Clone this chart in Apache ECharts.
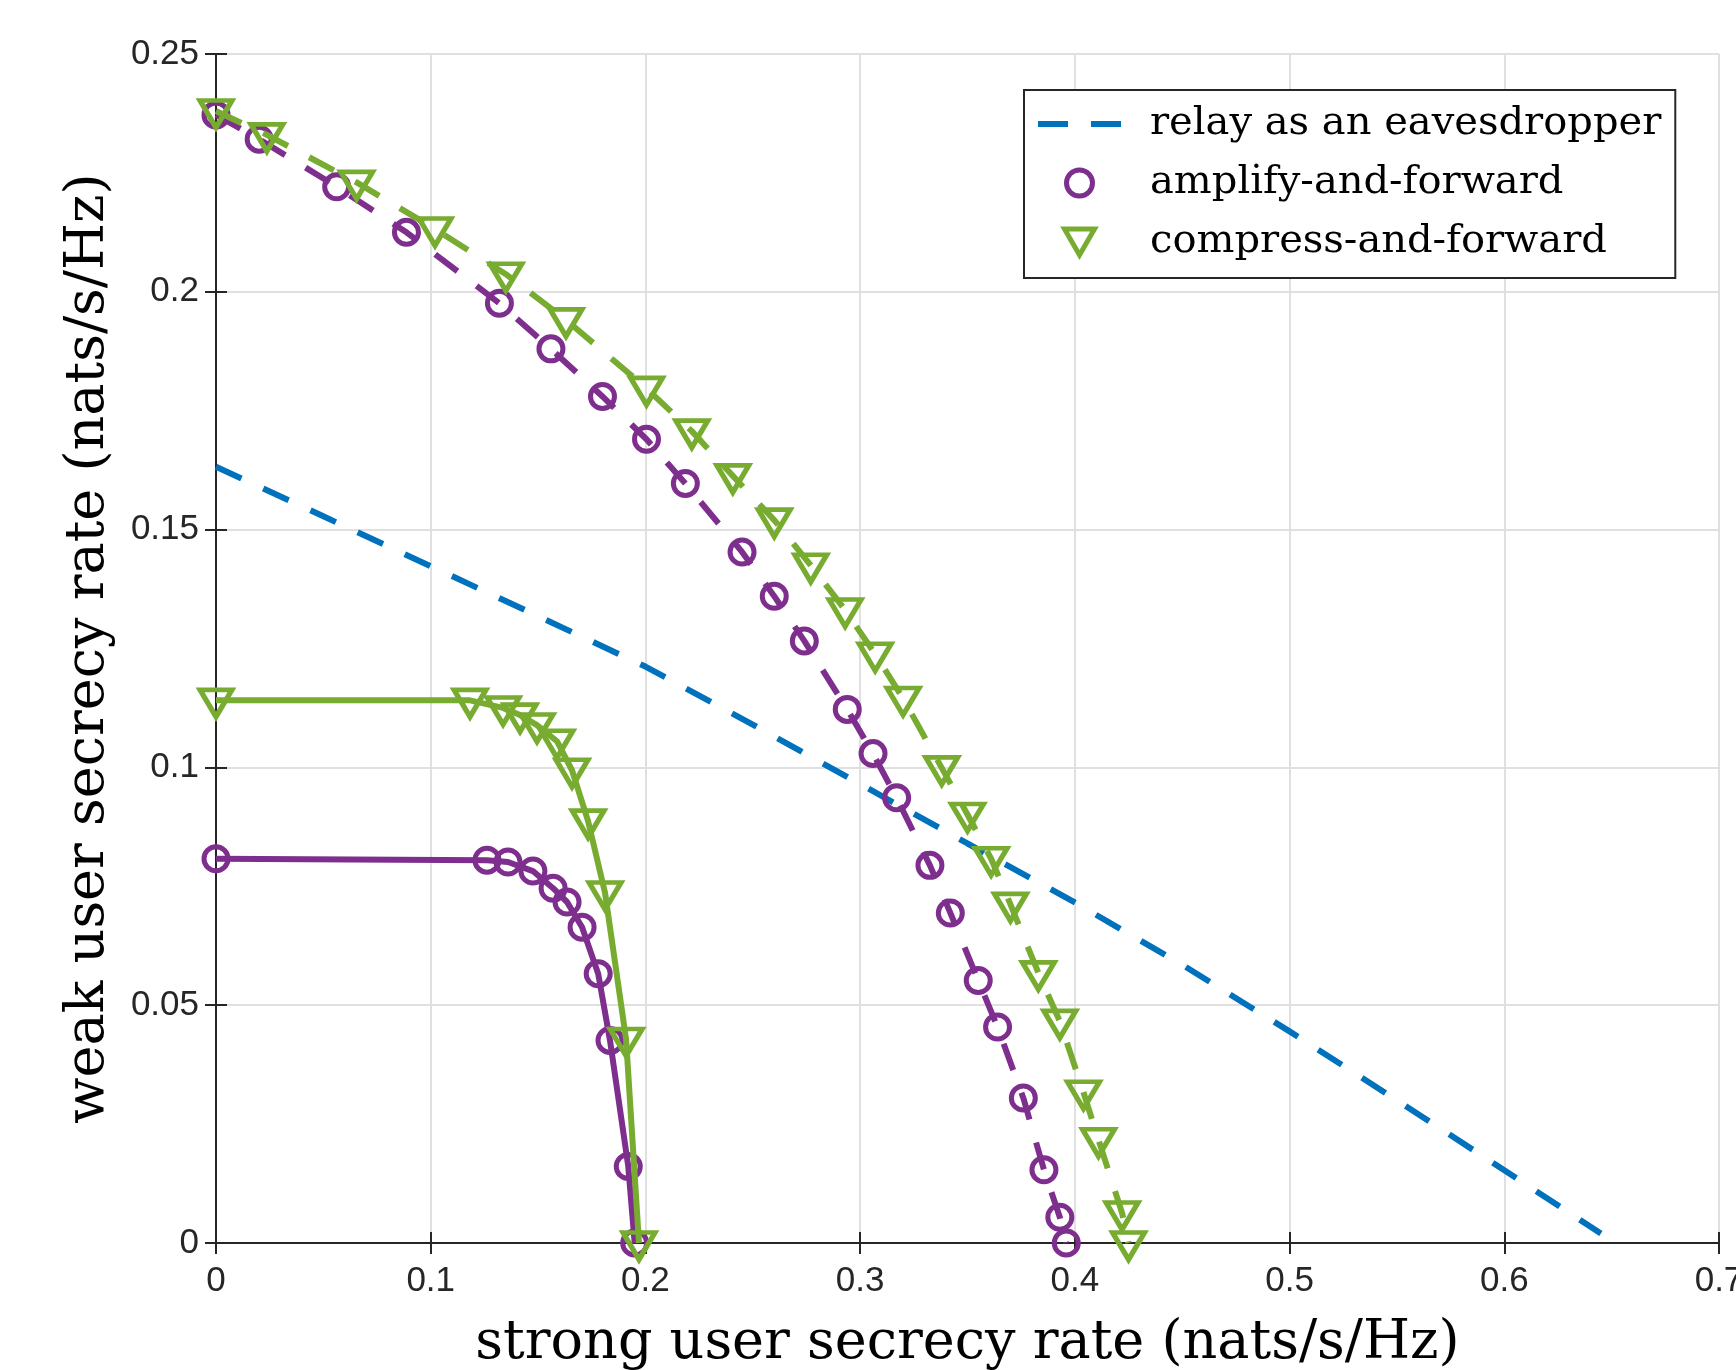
<!DOCTYPE html>
<html>
<head>
<meta charset="utf-8">
<title>secrecy rate region</title>
<script src="https://cdn.jsdelivr.net/npm/echarts@6/dist/echarts.min.js"></script>
<style>
  html, body { margin: 0; padding: 0; background: #fff; }
  #chart { width: 1736px; height: 1370px; }
</style>
</head>
<body>
<div id="chart"></div>
<script>
// relay as an eavesdropper (dashed blue, no markers)
const relayX = [0, 0.05, 0.10, 0.15, 0.20, 0.25, 0.30, 0.35, 0.40, 0.45, 0.50, 0.55, 0.60, 0.645];
const relayY = [0.1632, 0.1528, 0.1423, 0.1318, 0.1212, 0.1090, 0.0965, 0.0840, 0.0716, 0.0585, 0.0445, 0.0300, 0.0153, 0.0020];

// amplify-and-forward, upper (dashed) and lower (solid) curves
const afUpperX = [0, 0.0201, 0.0562, 0.0887, 0.132, 0.156, 0.180, 0.2005, 0.2186, 0.245, 0.260, 0.274, 0.294, 0.306, 0.317, 0.3325, 0.342, 0.355, 0.364, 0.376, 0.3856, 0.393, 0.396];
const afUpperY = [0.2372, 0.2321, 0.2221, 0.2125, 0.1976, 0.188, 0.178, 0.169, 0.1597, 0.1453, 0.136, 0.1266, 0.1122, 0.1029, 0.0936, 0.0794, 0.0694, 0.0552, 0.0454, 0.0305, 0.0154, 0.0054, 0];
const afLowerX = [0, 0.1262, 0.1360, 0.1476, 0.157, 0.1635, 0.1705, 0.178, 0.1835, 0.192, 0.195];
const afLowerY = [0.0808, 0.0805, 0.0801, 0.0782, 0.0746, 0.0717, 0.0664, 0.0566, 0.0426, 0.0161, 0];

// compress-and-forward, upper (dashed) and lower (solid) curves
const cfUpperX = [0, 0.0237, 0.0655, 0.102, 0.135, 0.163, 0.2005, 0.2216, 0.2407, 0.260, 0.277, 0.293, 0.307, 0.320, 0.338, 0.350, 0.361, 0.370, 0.383, 0.393, 0.404, 0.411, 0.422, 0.425];
const cfUpperY = [0.2380, 0.2330, 0.2230, 0.2132, 0.2037, 0.1941, 0.1797, 0.1707, 0.1613, 0.1520, 0.1425, 0.1331, 0.1238, 0.1145, 0.0999, 0.0901, 0.0808, 0.0712, 0.0568, 0.0466, 0.0317, 0.0217, 0.0063, 0];
const cfLowerX = [0, 0.1183, 0.1337, 0.1416, 0.1495, 0.1588, 0.1658, 0.1733, 0.1812, 0.191, 0.197];
const cfLowerY = [0.1141, 0.1141, 0.1125, 0.1110, 0.1089, 0.1055, 0.0994, 0.0887, 0.0736, 0.0428, 0];

const xTickLabels = ['0', '0.1', '0.2', '0.3', '0.4', '0.5', '0.6', '0.7'];
const yTickLabels = ['0', '0.05', '0.1', '0.15', '0.2', '0.25'];

const BLUE = '#0072BD', PURPLE = '#7E2F8E', GREEN = '#77AC30';
const AXIS = '#262626';
const DASH = [28, 24];
const TRI = 'path://M0,0 L10,0 L5,8.66 Z';
// legend glyph for the dashed line: two short dashes
const DASH_ICON = 'path://M0,0 H30 V6 H0 Z M53,0 H83 V6 H53 Z';

function zip(xs, ys) { return xs.map((x, i) => [x, ys[i]]); }

const chart = echarts.init(document.getElementById('chart'), null, { renderer: 'canvas' });

const tickFont = { color: AXIS, fontFamily: 'Liberation Sans, Arial, sans-serif', fontSize: 35 };
const titleFont = { color: '#000', fontFamily: 'DejaVu Serif, serif', fontSize: 54 };

function markerSeries(name, data, color, dashed, symbol) {
  const isTri = symbol === TRI;
  return {
    name: name,
    type: 'line',
    data: data,
    clip: false,
    showAllSymbol: true,
    symbol: symbol,
    symbolSize: isTri ? [32, 27] : 24,
    symbolOffset: isTri ? [0, 3] : [0, 0],
    lineStyle: { color: color, width: 6, type: dashed ? DASH : 'solid' },
    itemStyle: { color: 'rgba(0,0,0,0)', borderColor: color, borderWidth: 5 },
    emphasis: { disabled: true },
    z: isTri ? 4 : 3
  };
}

const option = {
  animation: false,
  backgroundColor: '#fff',
  grid: { left: 216, top: 54, right: 17, bottom: 127, containLabel: false, outerBoundsMode: 'none' },
  legend: {
    orient: 'vertical',
    left: 1024,
    top: 90,
    padding: [14, 14, 16, 14],
    itemWidth: 83,
    itemHeight: 26,
    itemGap: 19,
    backgroundColor: '#fff',
    borderColor: AXIS,
    borderWidth: 2,
    selectedMode: false,
    textStyle: { color: '#000', fontFamily: 'DejaVu Serif, serif', fontSize: 40, padding: [0, 0, 0, 24] },
    data: [
      { name: 'relay as an eavesdropper', icon: DASH_ICON,
        itemStyle: { color: BLUE, borderWidth: 0 } },
      { name: 'amplify-and-forward', icon: 'circle',
        itemStyle: { color: 'rgba(0,0,0,0)', borderColor: PURPLE, borderWidth: 5 } },
      { name: 'compress-and-forward', icon: TRI,
        itemStyle: { color: 'rgba(0,0,0,0)', borderColor: GREEN, borderWidth: 5 } }
    ]
  },
  xAxis: [
    {
      type: 'value', min: 0, max: 0.7, interval: 0.1,
      name: 'strong user secrecy rate (nats/s/Hz)',
      nameLocation: 'middle', nameGap: 74, nameTextStyle: titleFont,
      axisLine: { show: true, onZero: false, lineStyle: { color: AXIS, width: 2 } },
      axisTick: { show: true, inside: true, length: 11, lineStyle: { color: AXIS, width: 2 } },
      axisLabel: Object.assign({ margin: 21, formatter: (v) => xTickLabels[Math.round(v * 10)] }, tickFont),
      splitLine: { show: true, lineStyle: { color: '#e0e0e0', width: 2 } }
    },
    {
      type: 'value', min: 0, max: 0.7, interval: 0.1, position: 'top',
      axisLine: { show: true, lineStyle: { color: AXIS, width: 2 } },
      axisTick: { show: true, inside: true, length: 11, lineStyle: { color: AXIS, width: 2 } },
      axisLabel: { show: false },
      splitLine: { show: false }
    }
  ],
  yAxis: [
    {
      type: 'value', min: 0, max: 0.25, interval: 0.05,
      name: 'weak user secrecy rate (nats/s/Hz)',
      nameLocation: 'middle', nameGap: 100, nameTextStyle: titleFont,
      axisLine: { show: true, onZero: false, lineStyle: { color: AXIS, width: 2 } },
      axisTick: { show: true, inside: true, length: 11, lineStyle: { color: AXIS, width: 2 } },
      axisLabel: Object.assign({ margin: 17, formatter: (v) => yTickLabels[Math.round(v * 20)] }, tickFont),
      splitLine: { show: true, lineStyle: { color: '#e0e0e0', width: 2 } }
    },
    {
      type: 'value', min: 0, max: 0.25, interval: 0.05, position: 'right',
      axisLine: { show: true, lineStyle: { color: AXIS, width: 2 } },
      axisTick: { show: true, inside: true, length: 11, lineStyle: { color: AXIS, width: 2 } },
      axisLabel: { show: false },
      splitLine: { show: false }
    }
  ],
  series: [
    {
      name: 'relay as an eavesdropper',
      type: 'line',
      data: zip(relayX, relayY),
      symbol: 'none',
      clip: false,
      lineStyle: { color: BLUE, width: 6, type: DASH },
      itemStyle: { color: BLUE },
      emphasis: { disabled: true },
      z: 2
    },
    markerSeries('amplify-and-forward', zip(afUpperX, afUpperY), PURPLE, true, 'circle'),
    markerSeries('amplify-and-forward', zip(afLowerX, afLowerY), PURPLE, false, 'circle'),
    markerSeries('compress-and-forward', zip(cfUpperX, cfUpperY), GREEN, true, TRI),
    markerSeries('compress-and-forward', zip(cfLowerX, cfLowerY), GREEN, false, TRI)
  ]
};

chart.setOption(option);
</script>
</body>
</html>
